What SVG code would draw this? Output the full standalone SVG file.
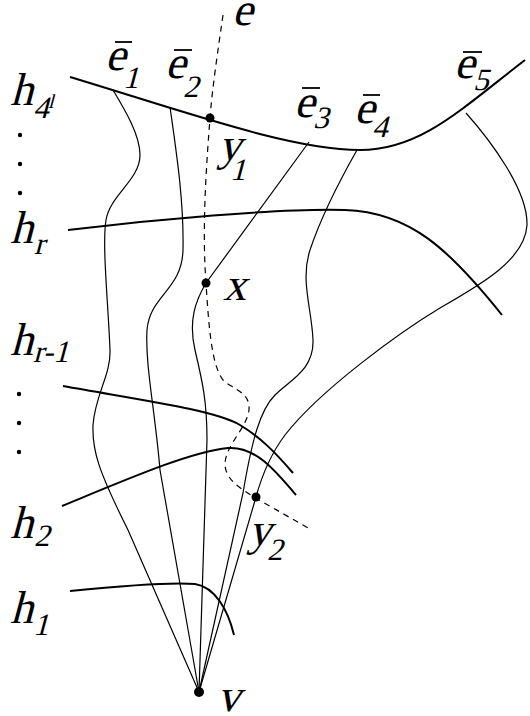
<svg xmlns="http://www.w3.org/2000/svg" width="530" height="716" viewBox="0 0 530 716">
<style>
.h{fill:none;stroke:#000;stroke-width:2}
.e{fill:none;stroke:#000;stroke-width:1.2}
.d{fill:none;stroke:#000;stroke-width:1.2;stroke-dasharray:6 5}
.bar{stroke:#000;stroke-width:1.8}
.t,.s,.ss{font-family:"Liberation Serif","Times New Roman",serif;font-style:normal;fill:#000}
.t{font-size:46px}
.s{font-size:31px}
.ss{font-size:20px}
</style>
<rect width="530" height="716" fill="#fff"/>
<g id="connectors">
<path class="h" d="M70,77 C180,110 290,150 360,150 C420,150 460,110 525,60"/>
<path class="h" d="M68,230 C150,220 280,208 345,210 C410,212 450,250 502,315"/>
<path class="h" d="M63,386 C140,400 215,410 240,425 C260,437 275,452 293,473"/>
<path class="h" d="M62,506 C130,478 190,452 228,448 C255,446 275,470 296,495"/>
<path class="h" d="M70,591 C120,586 170,582 195,584 C215,587 228,610 234,635"/>
<path class="e" d="M113,90 C125,110 140,135 140,155 C140,180 110,195 106,220 C102,245 108,300 110,350 C111,375 95,395 93,425 C92,450 98,470 128,530 L199,692"/>
<path class="e" d="M170,107 C176,150 184,200 183,250 C182,290 150,295 147,330 C145,365 155,410 160,470 L199,692"/>
<path class="e" d="M309,142 L206,283 C196,300 188,320 195,350 C202,380 207,400 207,440 L199,692"/>
<path class="e" d="M357,150 C340,180 320,220 310,250 C300,280 312,310 313,340 C314,370 290,380 275,395 C260,410 252,440 243,493 L199,692"/>
<path class="e" d="M466,113 C490,140 528,190 527,225 C525,260 480,285 440,308 C400,332 320,390 285,435 C270,455 262,475 256,497 L199,692"/>
<path class="d" d="M223,15 C218,50 212,90 210,118 C206,170 202,230 206,283 C209,330 212,370 225,382 C240,392 250,395 249,410 C246,430 225,445 225,465 C226,480 240,488 254,497 L308,528"/>
</g>
<g id="y1"><circle cx="210" cy="118" r="4.5"/><text class="t" transform="translate(218,160) skewX(-15)">y</text><text class="s" transform="translate(230,180) skewX(-15)">1</text></g>
<g id="x"><circle cx="206" cy="283" r="4.5"/><text class="t" transform="translate(223,300) skewX(-15)">x</text></g>
<g id="y2"><circle cx="256" cy="497" r="4.5"/><text class="t" transform="translate(248,545) skewX(-15)">y</text><text class="s" transform="translate(267,560) skewX(-15)">2</text></g>
<g id="v"><circle cx="199" cy="692" r="5"/><text class="t" transform="translate(217,711) skewX(-15)">v</text></g>
<g id="e"><text class="t" transform="translate(232,25) skewX(-15)">e</text></g>
<g id="e1"><text class="t" transform="translate(105,70) skewX(-15)">e</text><line class="bar" x1="115" y1="42" x2="132" y2="42"/><text class="s" transform="translate(123,88) skewX(-15)">1</text></g>
<g id="e2"><text class="t" transform="translate(165,78) skewX(-15)">e</text><line class="bar" x1="174" y1="50" x2="192" y2="50"/><text class="s" transform="translate(183,97) skewX(-15)">2</text></g>
<g id="e3"><text class="t" transform="translate(294,117) skewX(-15)">e</text><line class="bar" x1="302" y1="88" x2="320" y2="88"/><text class="s" transform="translate(313,128) skewX(-15)">3</text></g>
<g id="e4"><text class="t" transform="translate(354,123) skewX(-15)">e</text><line class="bar" x1="363" y1="95" x2="380" y2="95"/><text class="s" transform="translate(372,137) skewX(-15)">4</text></g>
<g id="e5"><text class="t" transform="translate(454,78) skewX(-15)">e</text><line class="bar" x1="463" y1="52" x2="482" y2="52"/><text class="s" transform="translate(473,90) skewX(-15)">5</text></g>
<g id="h4l"><text class="t" transform="translate(10,105) skewX(-15)">h</text><text class="s" transform="translate(33,118) skewX(-15)">4</text><text class="ss" transform="translate(48,108) skewX(-15)">l</text></g>
<g id="dots1"><circle cx="20" cy="135" r="2.2"/><circle cx="20" cy="164" r="2.2"/><circle cx="20" cy="193" r="2.2"/></g>
<g id="hr"><text class="t" transform="translate(10,243) skewX(-15)">h</text><text class="s" transform="translate(34,254) skewX(-15)">r</text></g>
<g id="hr1"><text class="t" transform="translate(10,355) skewX(-15)">h</text><text class="s" transform="translate(33,362) skewX(-15)">r-1</text></g>
<g id="dots2"><circle cx="19" cy="394" r="2.2"/><circle cx="19" cy="423" r="2.2"/><circle cx="19" cy="452" r="2.2"/></g>
<g id="h2"><text class="t" transform="translate(10,538) skewX(-15)">h</text><text class="s" transform="translate(34,546) skewX(-15)">2</text></g>
<g id="h1"><text class="t" transform="translate(10,623) skewX(-15)">h</text><text class="s" transform="translate(33,635) skewX(-15)">1</text></g>
</svg>
